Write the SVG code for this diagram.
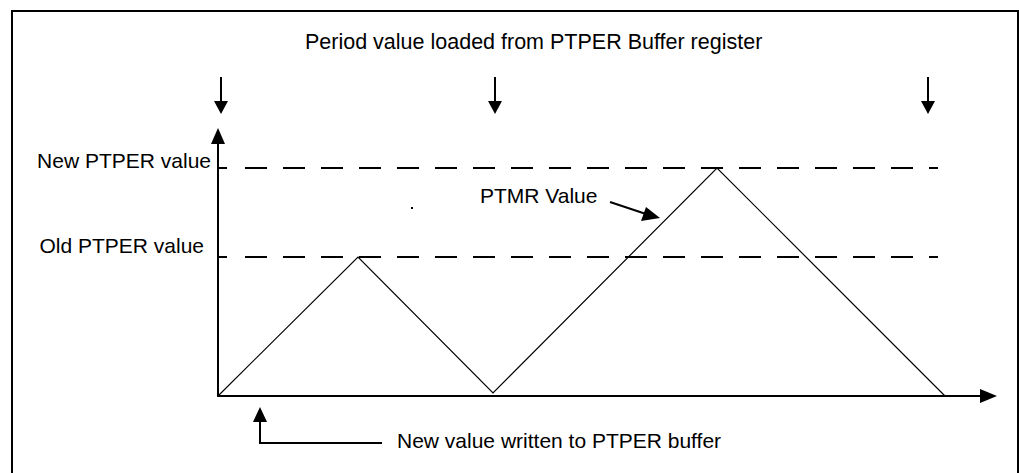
<svg xmlns="http://www.w3.org/2000/svg" width="1019" height="473" viewBox="0 0 1019 473">
<style>
text{font-family:"Liberation Sans",Arial,sans-serif;font-size:21px;fill:#000}
.ax{stroke:#000;stroke-width:2;fill:none}
.thin{stroke:#000;stroke-width:1.2;fill:none}
.dash{stroke:#000;stroke-width:2;fill:none;stroke-dasharray:22 16}
.head{fill:#000;stroke:none}
</style>
<rect width="1019" height="473" fill="#fff"/>
<path id="frame" class="ax" d="M12,473 V11 H1018 V473"/>
<g id="title"><text x="305" y="49" style="font-size:21.5px">Period value loaded from PTPER Buffer register</text></g>
<g id="label-new"><text x="211" y="168" text-anchor="end">New PTPER value</text></g>
<g id="label-old"><text x="204" y="253" text-anchor="end">Old PTPER value</text></g>
<g id="label-ptmr"><text x="480" y="203">PTMR Value</text></g>
<g id="label-written"><text x="397" y="448">New value written to PTPER buffer</text></g>
<g id="connectors">
  <path class="ax" d="M218,396 V142"/>
  <polygon class="head" points="218,128 211,144 225,144"/>
  <path class="ax" d="M217,396 H982"/>
  <polygon class="head" points="997,396 980,389 980,403"/>
  <path class="ax" d="M218,168 H227"/>
  <path class="dash" d="M245,168 H938"/>
  <path class="ax" d="M218,257 H227"/>
  <path class="dash" d="M245,257 H938"/>
  <path class="thin" d="M218,396 L358,257 L493,393 L717,168 L945,396"/>
  <path class="ax" d="M221,77 V102"/>
  <polygon class="head" points="221,114 214,101 228,101"/>
  <path class="ax" d="M495,77 V102"/>
  <polygon class="head" points="495,114 488,101 502,101"/>
  <path class="ax" d="M928,77 V102"/>
  <polygon class="head" points="928,114 921,101 935,101"/>
  <path class="ax" d="M610,202 L646,214"/>
  <polygon class="head" points="660,218 641,221 646,207"/>
  <path class="ax" d="M382,443 H260 V420"/>
  <polygon class="head" points="260,407 253,422 267,422"/>
  <rect x="411" y="207" width="2" height="2" fill="#000"/>
</g>
</svg>
